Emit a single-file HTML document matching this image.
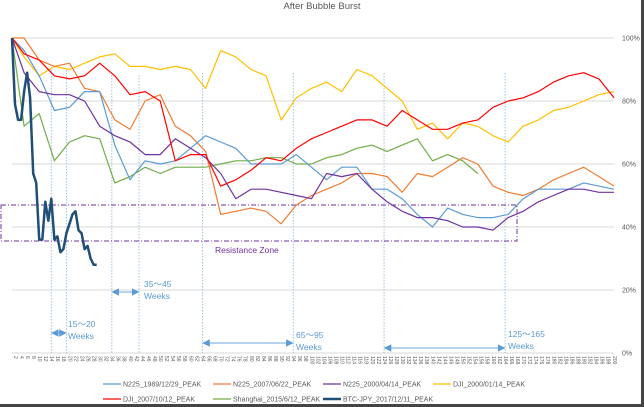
<!DOCTYPE html>
<html><head><meta charset="utf-8"><style>
html,body{margin:0;padding:0;background:#fff;}
svg{display:block;font-family:"Liberation Sans",sans-serif;}
</style></head><body>
<svg id="chart" width="644" height="407" viewBox="0 0 644 407">
<rect x="0" y="0" width="644" height="407" fill="#fff"/>
<rect x="641" y="0" width="3" height="407" fill="#444"/>
<rect x="0" y="404" width="644" height="3" fill="#444"/>
<text x="322" y="9" text-anchor="middle" font-size="9.5" fill="#595959">After Bubble Burst</text>
<g id="grid"></g>
<g id="yaxis"></g>
<g id="xaxis"></g>
<g id="annot"></g>
<g id="series"></g>
<g id="legend"></g>
</svg>
<script>
const sampleWeeks = [1,5,10,15,20,25,30,35,40,45,50,55,60,65,70,75,80,85,90,95,100,105,110,115,120,125,130,135,140,145,150,155,160,165,170,175,180,185,190,195,200];
const n225_1989 = [100,96,88,77,78,83,83,66,55,61,60,61,65,69,67,65,60,60,60,63,59,55,59,59,52,52,49,44,40,46,44,43,43,44,49,52,52,52,54,53,52];
const n225_2007 = [100,100,93,91,92,84,83,74,71,80,82,72,69,64,44,45,46,45,41,47,50,52,54,57,57,56,51,57,56,59,62,60,53,51,50,52,55,57,59,56,53];
const n225_2000 = [100,89,83,82,82,80,72,69,67,63,63,68,65,62,57,49,52,52,51,50,49,57,56,57,52,48,45,43,43,42,40,40,39,43,45,48,50,52,52,51,51];
const dji_2000 = [100,94,88,91,90,92,94,95,91,91,90,91,90,84,96,94,90,88,74,81,84,86,83,90,88,84,80,71,73,68,73,72,69,67,72,74,77,78,80,82,83];
const dji_2007 = [100,95,93,88,87,88,92,88,82,83,80,61,63,63,53,55,58,62,61,65,68,70,72,74,74,72,77,74,71,71,73,74,78,80,81,83,86,88,89,87,81];
const shanghai = [100,72,76,61,67,69,68,54,56,59,57,59,59,59,60,61,61,62,62,60,60,62,63,65,66,64,66,68,61,63,61,57,null,null,null,null,null,null,null,null,null];
const btcWeeks = [1,2,3,4,5,6,7,8,9,10,11,12,13,14,15,16,17,18,19,20,21,22,23,24,25,26,27,28,29];
const btcValues = [100,79,74,74,83,89,81,57,54,36,36,48,42,49,36,37,32,33,38,41,44,45,39,38,33,34,30,28,28];
const yTicks = [0,20,40,60,80,100];
const xTickLabels = []; for (let k = 2; k <= 200; k += 2) xTickLabels.push(k);
const annWeeks = [14,19,34,43,64,94,124,164];
const annRanges = ["15～20","35～45","65～95","125～165"];

const NS = "http://www.w3.org/2000/svg";
function x(w){ return 12 + (w-1)*3.025; }
function y(p){ return 353 - p*3.15; }
function mk(tag, attrs, parent){ const e=document.createElementNS(NS,tag); for(const k in attrs) e.setAttribute(k,attrs[k]); parent.appendChild(e); return e; }

const grid=document.getElementById('grid'), yaxis=document.getElementById('yaxis'), xaxis=document.getElementById('xaxis');
yTicks.forEach(t=>{
  const l=mk('line',{x1:12,x2:614,y1:y(t),y2:y(t),stroke:'#d9d9d9','stroke-width':1},grid);
  
  
  const tx=mk('text',{x:622,y:y(t)+2.5,'font-size':7,fill:'#595959'},yaxis);
  tx.textContent=t+'%';
  
  
});
xTickLabels.forEach(k=>{
  const px=x(k-1);
  const tx=mk('text',{x:0,y:0,'font-size':5,fill:'#595959',transform:'translate('+(px+1.8)+',356) rotate(90)'},xaxis);
  tx.textContent=k;
  
  
});

const annot=document.getElementById('annot');
const vTop=[70,70,75,75,73,73,73,73];
annWeeks.forEach((w,i)=>{
  const l=mk('line',{x1:x(w),x2:x(w),y1:vTop[i],y2:353,stroke:'#9dc3e6','stroke-width':1,'stroke-dasharray':'1.5,1.5'},annot);
  
  
});
mk('defs',{},annot).innerHTML='<marker id="ah" viewBox="0 0 6 6" refX="5" refY="3" markerWidth="5" markerHeight="5" orient="auto-start-reverse"><path d="M0,0L6,3L0,6z" fill="#5b9bd5"/></marker>';
const arrowY=[333,292,343,348];
const textPos=[[68,327],[144,287],[296,338],[508,337]];
for(let i=0;i<4;i++){
  const a=mk('line',{x1:x(annWeeks[2*i])+1,x2:x(annWeeks[2*i+1])-1,y1:arrowY[i],y2:arrowY[i],stroke:'#9dc3e6','stroke-width':1.5,'marker-start':'url(#ah)','marker-end':'url(#ah)'},annot);
  
  
  const t1=mk('text',{x:textPos[i][0],y:textPos[i][1],'font-size':8.5,fill:'#5b9bd5'},annot);
  t1.textContent=annRanges[i];
  
  
  const t2=mk('text',{x:textPos[i][0],y:textPos[i][1]+12,'font-size':8.5,fill:'#5b9bd5'},annot);
  t2.textContent='Weeks';
  
  
}
const rz=mk('rect',{x:1,y:205,width:516,height:36,fill:'none',stroke:'#7030a0','stroke-width':1,'stroke-dasharray':'5,2,1,2'},annot);


const rzt=mk('text',{x:215,y:253,'font-size':8.5,fill:'#7030a0'},annot);
rzt.textContent='Resistance Zone';



const seriesG=document.getElementById('series');
function drawLine(weeks, vals, color, width, name){
  let d='', pen=false;
  weeks.forEach((w,i)=>{ const v=vals[i]; if(v==null){pen=false;return;} d+=(pen?'L':'M')+x(w).toFixed(1)+','+y(v).toFixed(1); pen=true; });
  const p=mk('path',{d:d,fill:'none',stroke:color,'stroke-width':width,'stroke-linejoin':'round'},seriesG);
  
  
}
drawLine(sampleWeeks,dji_2000,'#ffc000',1.2,'line-dji-2000');
drawLine(sampleWeeks,shanghai,'#70ad47',1.2,'line-shanghai-2015');
drawLine(sampleWeeks,n225_2007,'#ed7d31',1.2,'line-n225-2007');
drawLine(sampleWeeks,n225_1989,'#5b9bd5',1.2,'line-n225-1989');
drawLine(sampleWeeks,n225_2000,'#7030a0',1.2,'line-n225-2000');
drawLine(sampleWeeks,dji_2007,'#ff0000',1.2,'line-dji-2007');
drawLine(btcWeeks,btcValues,'#1f4e79',2.5,'line-btc-jpy-2017');

const legend=document.getElementById('legend');
const legItems=[['N225_1989/12/29_PEAK','#5b9bd5',103,384,1.2],['N225_2007/06/22_PEAK','#ed7d31',213,384,1.2],['N225_2000/04/14_PEAK','#7030a0',323,384,1.2],['DJI_2000/01/14_PEAK','#ffc000',433,384,1.2],['DJI_2007/10/12_PEAK','#ff0000',103,399,1.2],['Shanghai_2015/6/12_PEAK','#70ad47',213,399,1.2],['BTC-JPY_2017/12/11_PEAK','#1f4e79',323,399,2.5]];
legItems.forEach(it=>{
  const g=mk('g',{},legend);
  
  
  mk('line',{x1:it[2],x2:it[2]+18,y1:it[3],y2:it[3],stroke:it[1],'stroke-width':it[4]},g);
  const t=mk('text',{x:it[2]+20,y:it[3]+2.5,'font-size':7,fill:'#595959'},g);
  t.textContent=it[0];
});
</script>
</body></html>
